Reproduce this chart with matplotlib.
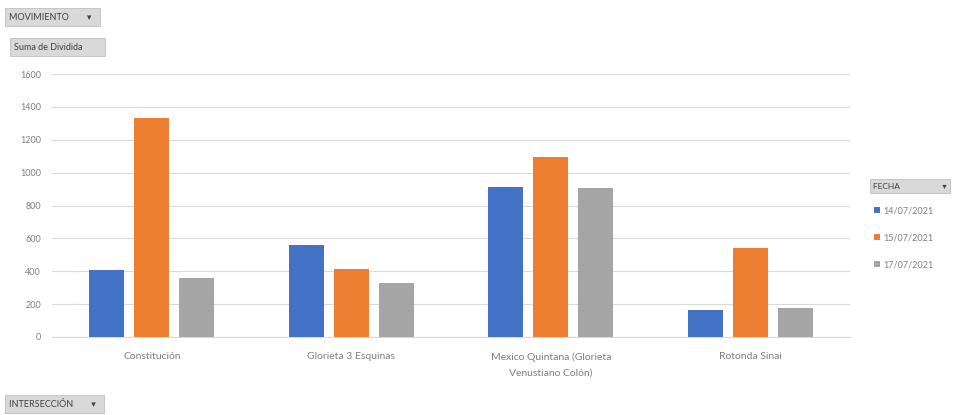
import matplotlib
matplotlib.use("Agg")
import matplotlib.pyplot as plt
import numpy as np

plt.rcParams['font.family'] = ['Lato', 'DejaVu Sans']

categories = ["Constitución", "Glorieta 3 Esquinas",
              "Mexico Quintana (Glorieta\nVenustiano Colón)", "Rotonda Sinai"]
series_names = ["14/07/2021", "15/07/2021", "17/07/2021"]
s1 = [410, 557, 911, 165]
s2 = [1330, 416, 1095, 544]
s3 = [361, 326, 906, 177]
yticks = [0, 200, 400, 600, 800, 1000, 1200, 1400, 1600]
colors = ["#4472C4", "#ED7D31", "#A5A5A5"]

fig = plt.figure(figsize=(9.62, 4.15), dpi=100)
ax = fig.add_axes([52/962, 1 - 337/415, (850-52)/962, (337-74)/415])

x = np.arange(len(categories))
w = 0.175
off = 0.225
for i, (vals, c, name) in enumerate(zip([s1, s2, s3], colors, series_names)):
    ax.bar(x + (i - 1) * off, vals, width=w, color=c, label=name, zorder=3)

ax.set_xlim(-0.5, len(categories) - 0.5)
ax.set_ylim(0, 1600)
ax.set_yticks(yticks)
ax.set_yticklabels([str(t) for t in yticks], fontsize=6.5, color="#7f7f7f")
ax.set_xticks(x)
ax.set_xticklabels(categories, fontsize=7.5, color="#7f7f7f", linespacing=1.9)
ax.tick_params(axis='y', length=0, pad=8)
ax.tick_params(axis='x', length=0, pad=11)
ax.yaxis.grid(True, color="#d9d9d9", linewidth=0.8, zorder=0)
for s in ["top", "right", "left"]:
    ax.spines[s].set_visible(False)
ax.spines["bottom"].set_color("#d9d9d9")

# Pivot field buttons
btn = dict(boxstyle="square,pad=0.45", facecolor="#d9d9d9", edgecolor="#bfbfbf", linewidth=0.6)
fig.text(9/962, 1 - 17/415, "MOVIMIENTO        ▾  ", fontsize=6.5, color="#404040", va="center", ha="left", bbox=btn)
fig.text(14/962, 1 - 47/415, "Suma de Dividida        ", fontsize=6.5, color="#404040", va="center", ha="left", bbox=btn)
fig.text(9/962, 1 - 404/415, "INTERSECCIÓN        ▾  ", fontsize=6.5, color="#404040", va="center", ha="left", bbox=btn)

# Legend with title button
fig.text(873/962, 1 - 186/415, "FECHA                    ▾", fontsize=6, color="#404040",
         va="center", ha="left",
         bbox=dict(boxstyle="square,pad=0.4", facecolor="#d9d9d9", edgecolor="#bfbfbf", linewidth=0.6))
handles, labels = ax.get_legend_handles_labels()
leg = fig.legend(handles, labels, loc="upper left", bbox_to_anchor=(866/962, 1 - 198/415),
                 frameon=False, fontsize=6.5, handlelength=0.6, handleheight=0.6,
                 handletextpad=0.4, labelspacing=2.0, labelcolor="#7f7f7f")

fig.savefig("out.png", dpi=100, facecolor="white")
